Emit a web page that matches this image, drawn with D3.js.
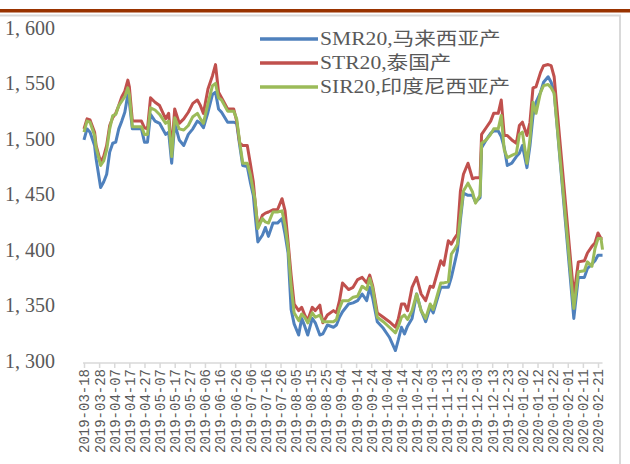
<!DOCTYPE html>
<html>
<head>
<meta charset="utf-8">
<script src="https://cdn.jsdelivr.net/npm/d3@7"></script>
<style>
  html, body { margin: 0; padding: 0; background: #fff; }
  svg { display: block; }
</style>
</head>
<body>
<svg id="chart" width="630" height="464"></svg>
<script>
// trading dates
const dates = [
  "2019-03-18","2019-03-20","2019-03-22","2019-03-25","2019-03-26","2019-03-29","2019-03-31","2019-04-02",
  "2019-04-04","2019-04-06","2019-04-08","2019-04-10","2019-04-12","2019-04-14","2019-04-16","2019-04-17",
  "2019-04-19","2019-04-22","2019-04-25","2019-04-27","2019-04-29","2019-05-01","2019-05-04","2019-05-07",
  "2019-05-11","2019-05-13","2019-05-15","2019-05-17","2019-05-20","2019-05-23","2019-05-26","2019-05-29",
  "2019-06-01","2019-06-03","2019-06-05","2019-06-08","2019-06-11","2019-06-13","2019-06-15","2019-06-17",
  "2019-06-21","2019-06-25","2019-06-27","2019-06-29","2019-07-01","2019-07-04","2019-07-06","2019-07-08",
  "2019-07-09","2019-07-11","2019-07-14","2019-07-16","2019-07-18","2019-07-21","2019-07-24","2019-07-27",
  "2019-07-29","2019-07-31","2019-08-02","2019-08-04","2019-08-07","2019-08-09","2019-08-11","2019-08-13",
  "2019-08-16","2019-08-18","2019-08-21","2019-08-23","2019-08-26","2019-08-30","2019-09-01","2019-09-03",
  "2019-09-05","2019-09-09","2019-09-12","2019-09-15","2019-09-18","2019-09-21","2019-09-23","2019-09-25",
  "2019-09-28","2019-10-02","2019-10-06","2019-10-10","2019-10-12","2019-10-14","2019-10-16","2019-10-18",
  "2019-10-21","2019-10-24","2019-10-27","2019-10-30","2019-11-02","2019-11-04","2019-11-09","2019-11-11",
  "2019-11-14","2019-11-16","2019-11-18","2019-11-20","2019-11-22","2019-11-24","2019-11-27","2019-11-30",
  "2019-12-02","2019-12-05","2019-12-06","2019-12-09","2019-12-12","2019-12-14","2019-12-17","2019-12-19",
  "2019-12-21","2019-12-23","2019-12-26","2019-12-29","2019-12-31","2020-01-02","2020-01-05","2020-01-07",
  "2020-01-09","2020-01-11","2020-01-14","2020-01-16","2020-01-19","2020-01-21","2020-01-23","2020-02-05",
  "2020-02-08","2020-02-12","2020-02-14","2020-02-17","2020-02-19","2020-02-21","2020-02-23","2020-02-24"
];

// SMR20 马来西亚产
const smr = [
  1499,1509,1506,1494,1482,1456,1461,1468, 1488,1496,1497,1509,1516,1524,1540,1533,
  1509,1509,1509,1497,1497,1522,1516,1514, 1504,1506,1478,1514,1499,1494,1504,1509,
  1516,1514,1510,1524,1540,1542,1527,1524, 1515,1515,1514,1494,1476,1475,1461,1449,
  1434,1407,1413,1420,1412,1424,1424,1428, 1414,1397,1346,1333,1323,1338,1331,1323,
  1338,1334,1323,1324,1332,1330,1332,1339, 1344,1351,1352,1354,1360,1354,1366,1356,
  1335,1329,1321,1309,1319,1330,1324,1331, 1338,1360,1345,1335,1348,1343,1366,1366,
  1366,1375,1387,1399,1427,1451,1449,1449, 1443,1447,1492,1499,1505,1507,1507,1502,
  1492,1476,1478,1484,1487,1494,1474,1494, 1521,1533,1542,1551,1556,1551,1542,1338,
  1375,1375,1383,1387,1390,1395,1395,1395
];

// STR20 泰国产
const str = [
  1509,1518,1517,1506,1494,1479,1484,1494, 1512,1519,1523,1530,1538,1543,1553,1547,
  1516,1516,1516,1510,1509,1537,1533,1530, 1518,1523,1489,1527,1514,1518,1524,1532,
  1535,1530,1523,1545,1557,1567,1542,1537, 1527,1527,1516,1496,1494,1494,1478,1461,
  1446,1420,1431,1433,1434,1436,1436,1446, 1435,1407,1377,1351,1345,1348,1341,1336,
  1348,1345,1350,1334,1341,1345,1343,1354, 1370,1364,1366,1373,1375,1370,1377,1367,
  1343,1339,1335,1330,1338,1351,1351,1345, 1366,1375,1360,1354,1367,1366,1390,1386,
  1408,1405,1410,1414,1453,1468,1478,1464, 1465,1465,1504,1510,1516,1523,1523,1535,
  1503,1503,1499,1496,1512,1515,1503,1515, 1546,1547,1560,1566,1567,1566,1556,1358,
  1389,1390,1397,1403,1406,1415,1410,1410
];

// SIR20 印度尼西亚产
const sir = [
  1506,1516,1515,1503,1492,1476,1480,1490, 1509,1521,1522,1530,1534,1538,1546,1540,
  1511,1511,1511,1504,1504,1528,1526,1522, 1514,1516,1484,1519,1509,1508,1512,1520,
  1523,1518,1514,1532,1548,1550,1537,1535, 1525,1525,1518,1497,1478,1478,1468,1453,
  1446,1419,1428,1425,1424,1434,1434,1435, 1422,1402,1367,1343,1336,1342,1339,1334,
  1343,1339,1341,1335,1335,1335,1337,1347, 1354,1354,1357,1358,1367,1364,1374,1365,
  1339,1335,1330,1325,1331,1339,1341,1337, 1345,1360,1345,1338,1351,1346,1370,1370,
  1371,1396,1400,1405,1431,1453,1460,1452, 1442,1449,1496,1499,1504,1509,1509,1521,
  1490,1483,1485,1487,1504,1506,1478,1500, 1533,1523,1542,1548,1549,1546,1541,1347,
  1380,1381,1389,1385,1401,1410,1410,1400
];

const seriesNames = ["SMR20,马来西亚产", "STR20,泰国产", "SIR20,印度尼西亚产"];
const seriesColors = ["#4F81BD", "#C0504D", "#9BBB59"];

const yTicks = [1300, 1350, 1400, 1450, 1500, 1550, 1600];
const xTicks = [
  "2019-03-18","2019-03-28","2019-04-07","2019-04-17","2019-04-27","2019-05-07","2019-05-17",
  "2019-05-27","2019-06-06","2019-06-16","2019-06-26","2019-07-06","2019-07-16","2019-07-26",
  "2019-08-05","2019-08-15","2019-08-25","2019-09-04","2019-09-14","2019-09-24","2019-10-04",
  "2019-10-14","2019-10-24","2019-11-03","2019-11-13","2019-11-23","2019-12-03","2019-12-13",
  "2019-12-23","2020-01-02","2020-01-12","2020-01-22","2020-02-01","2020-02-11","2020-02-21"
];

const svg = d3.select("#chart");
const parse = d3.timeParse("%Y-%m-%d");
const fmt = d3.timeFormat("%Y-%m-%d");

const xDates = dates.map(parse);
const tickDates = xTicks.map(parse);

const x = d3.scaleTime()
  .domain([tickDates[0], tickDates[tickDates.length - 1]])
  .range([84, 598]);

const y = d3.scaleLinear()
  .domain([1300, 1600])
  .range([360.5, 28]);

// top rule and chart frame
svg.append("rect")
  .attr("x", 0).attr("y", 9).attr("width", 630).attr("height", 3.5)
  .attr("fill", "#993300");

svg.append("rect")
  .attr("x", -1).attr("y", 15.5).attr("width", 621).attr("height", 460)
  .attr("fill", "none").attr("stroke", "#d9d9d9").attr("stroke-width", 2);

// y labels (no axis line)
svg.append("g")
  .selectAll("text")
  .data(yTicks)
  .join("text")
  .attr("x", 55)
  .attr("y", d => y(d))
  .attr("dy", "0.35em")
  .attr("text-anchor", "end")
  .style("font-family", "'Liberation Serif', serif")
  .style("font-size", "20px")
  .attr("fill", "#595959")
  .text(d => d3.format(",")(d).replace(",", ", "));

// x axis
const xAxis = d3.axisBottom(x)
  .tickValues(tickDates)
  .tickSize(5)
  .tickSizeOuter(0)
  .tickFormat(fmt);

const gx = svg.append("g")
  .attr("transform", "translate(0,363)")
  .call(xAxis);

gx.select(".domain").remove();
gx.append("line")
  .attr("x1", 83).attr("x2", x(xDates[xDates.length - 1]))
  .attr("stroke", "#d9d9d9").attr("stroke-width", 1.5);
gx.selectAll(".tick line").attr("stroke", "#d9d9d9").attr("stroke-width", 1.5);
gx.selectAll(".tick text")
  .attr("transform", "rotate(-90)")
  .attr("x", -6)
  .attr("y", 0)
  .attr("dy", "0.35em")
  .attr("text-anchor", "end")
  .style("font-family", "'Liberation Mono', monospace")
  .style("font-size", "14px")
  .attr("fill", "#595959");

// lines
const line = d3.line()
  .x((d, i) => x(xDates[i]))
  .y(d => y(d));

[smr, str, sir].forEach((vals, k) => {
  svg.append("path")
    .datum(vals)
    .attr("fill", "none")
    .attr("stroke", seriesColors[k])
    .attr("stroke-width", 3)
    .attr("stroke-linejoin", "round")
    .attr("d", line);
});

// legend
const legend = svg.append("g");
seriesNames.forEach((name, k) => {
  const ly = 39 + k * 24;
  legend.append("line")
    .attr("x1", 260).attr("x2", 318)
    .attr("y1", ly).attr("y2", ly)
    .attr("stroke", seriesColors[k]).attr("stroke-width", 3.5);
  legend.append("text")
    .attr("transform", `translate(320,${ly}) scale(1.2,1)`)
    .attr("dy", "0.35em")
    .style("font-family", "'Liberation Serif', 'Noto Sans CJK SC', serif")
    .style("font-size", "18px")
    .attr("fill", "#595959")
    .text(name);
});
</script>
</body>
</html>
